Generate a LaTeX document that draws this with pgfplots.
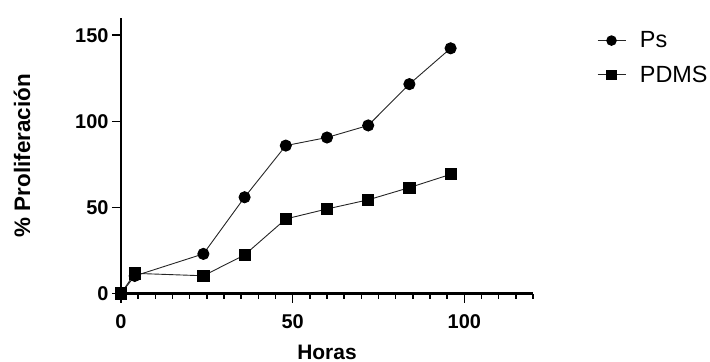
\documentclass[border=0pt]{standalone}
\usepackage{pgfplots}
\pgfplotsset{compat=1.18}
\usepackage{fontspec}
\setmainfont{Liberation Sans}

\begin{document}
\begin{tikzpicture}
\path[use as bounding box] (-121bp,-68.5bp) rectangle (589bp,293.5bp);
\begin{axis}[
  at={(0,0)}, anchor=south west,
  scale only axis,
  width=412bp, height=275.5bp,
  xmin=0, xmax=120, ymin=0, ymax=160,
  clip=false,
  axis x line=bottom, axis y line=left,
  axis line style={line width=2bp, -},
  xtick={0,50,100}, minor xtick={5,10,...,120},
  ytick={0,50,100,150},
  tick align=outside,
  major tick length=9bp, minor tick length=5bp,
  every tick/.style={black, line width=1.6bp},
  tick label style={font=\fontsize{20}{24}\selectfont\bfseries},
  xticklabel style={yshift=-9bp},
  /pgf/number format/assume math mode=true,
  xlabel={Horas}, ylabel={\% Proliferación},
  xlabel style={font=\fontsize{21}{25}\selectfont\bfseries, at={(axis description cs:0.5,-0.212)}, anchor=center},
  ylabel style={font=\fontsize{22.5}{26}\selectfont\bfseries, at={(axis description cs:-0.24,0.5)}, anchor=center},
  legend style={at={(axis description cs:1.155,0.958)}, anchor=north west,
    draw=none, fill=none, font=\fontsize{23.5}{27}\selectfont,
    row sep=12.5bp, inner sep=0pt, nodes={inner sep=2bp},
    /tikz/every odd column/.append style={column sep=12bp}},
  legend cell align=left,
  legend image code/.code={\draw[#1, mark repeat=2, mark phase=2, mark size=4.8bp] plot coordinates {(0bp,0bp) (14bp,0bp) (28bp,0bp)};},
]
\addplot[black!85, line width=0.9bp, mark=*, mark size=5.6bp, mark options={fill=black, draw=black, solid}] coordinates {
(0,0) (4,10.2) (24,23) (36,55.9) (48,85.9) (60,90.6) (72,97.6) (84,121.6) (96,142.4)};
\addlegendentry{Ps}
\addplot[black!85, line width=0.9bp, mark=square*, mark size=5.6bp, mark options={fill=black, draw=black, solid}] coordinates {
(0,0) (4,11.7) (24,10.3) (36,22.4) (48,43.3) (60,49.1) (72,54.4) (84,61.5) (96,69.2)};
\addlegendentry{PDMS}
\end{axis}
\end{tikzpicture}
\end{document}
